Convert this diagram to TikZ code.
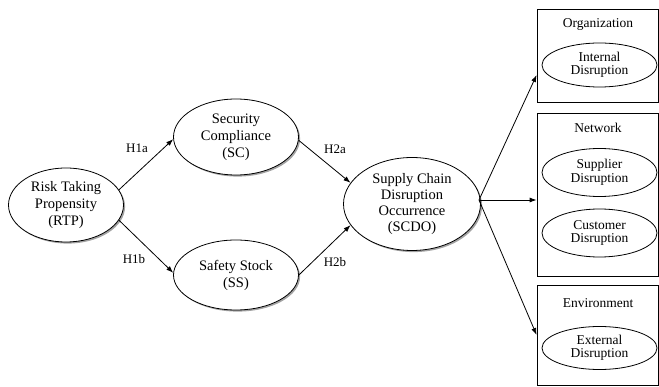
\documentclass[tikz,border=0pt]{standalone}
\usepackage{fontspec}
\setmainfont{Liberation Serif}
\usetikzlibrary{shapes.geometric,shadows,arrows.meta}
\begin{document}
\begin{tikzpicture}[x=1pt,y=-1pt,
  mainell/.style={draw, ellipse, fill=white, inner sep=0pt, line width=0.8pt, align=center,
    font=\fontsize{14.5}{17}\selectfont,
    drop shadow={shadow xshift=1.6pt, shadow yshift=-1.6pt, fill=black!45, opacity=0.8}},
  subell/.style={draw, ellipse, fill=white, inner sep=0pt, line width=0.8pt, align=center,
    minimum width=115pt, font=\fontsize{13.5}{13.5}\selectfont},
  grp/.style={draw, line width=0.8pt},
  grptitle/.style={font=\fontsize{13.5}{16}\selectfont},
  hlab/.style={font=\fontsize{13}{15}\selectfont},
  arr/.style={line width=0.8pt, -{Latex[length=7pt,width=5pt]}}]
\useasboundingbox (0,0) rectangle (659,387);

% main constructs
\node[mainell, minimum width=115pt, minimum height=74pt] (rtp) at (66,205) {Risk Taking\\Propensity\\(RTP)};
\node[mainell, minimum width=125pt, minimum height=76pt] (sc) at (236,137) {Security\\Compliance\\(SC)};
\node[mainell, minimum width=125pt, minimum height=70pt] (ss) at (236,275) {Safety Stock\\(SS)};
\node[mainell, minimum width=137pt, minimum height=93pt, font=\fontsize{14.5}{16.3}\selectfont] (scdo) at (412,204) {Supply Chain\\Disruption\\Occurrence\\(SCDO)};

% groups
\node[grp, minimum width=121pt, minimum height=93pt, inner sep=0pt] (org) at (597.5,55.5) {};
\node[grp, minimum width=121pt, minimum height=163pt, inner sep=0pt] (net) at (597.5,194.5) {};
\node[grp, minimum width=121pt, minimum height=100pt, inner sep=0pt] (env) at (597.5,335) {};

\node[grptitle] (orgt) at (598,24) {Organization};
\node[grptitle] (nett) at (598,128) {Network};
\node[grptitle] (envt) at (598,303) {Environment};

\node[subell, minimum height=44pt] (intd) at (599.5,65) {Internal\\Disruption};
\node[subell, minimum height=48pt] (supd) at (599.5,172.5) {Supplier\\Disruption};
\node[subell, minimum height=48pt] (cusd) at (599.5,233) {Customer\\Disruption};
\node[subell, minimum height=43pt] (extd) at (599.5,348) {External\\Disruption};

% hypothesis labels
\node[hlab] (h1a) at (137,148) {H1a};
\node[hlab] (h1b) at (134,259) {H1b};
\node[hlab] (h2a) at (335,149) {H2a};
\node[hlab] (h2b) at (335,262) {H2b};

% connectors
\draw[arr] (rtp.16) -- (sc.182);
\draw[arr] (rtp.-16) -- (ss.178);
\draw[arr] (sc.-3) -- (scdo.161);
\draw[arr] (ss.0) -- (scdo.199);

\coordinate (src) at (479,200);
\draw[arr] (src) -- (org.west |- 0,75);
\draw[arr] (src) -- (net.west |- src);
\draw[arr] (src) -- (env.west |- 0,335);
\end{tikzpicture}
\end{document}
